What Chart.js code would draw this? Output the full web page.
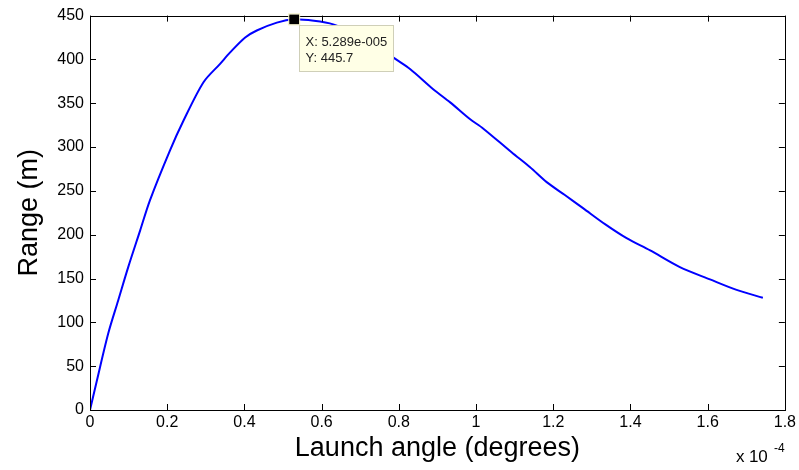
<!DOCTYPE html>
<html>
<head>
<meta charset="utf-8">
<script src="https://cdn.jsdelivr.net/npm/chart.js@4"></script>
<style>
  html, body { margin: 0; padding: 0; background: #fff; }
  #wrap { width: 799px; height: 470px; }
</style>
</head>
<body>
<div id="wrap"><canvas id="myChart" width="799" height="470"></canvas></div>
<script>
// launch angle in units of 1e-4 degrees
const angles = [0, 0.017, 0.047, 0.073, 0.099, 0.130, 0.155, 0.207, 0.242, 0.294, 0.337, 0.363,
    0.402, 0.432, 0.484, 0.5289, 0.58, 0.63, 0.70, 0.75, 0.786, 0.829, 0.889, 0.933, 0.984,
    1.019, 1.092, 1.140, 1.183, 1.231, 1.278, 1.334, 1.390, 1.451, 1.528, 1.606, 1.675, 1.743]
const ranges = [0, 32, 87, 125, 163, 205, 239, 296, 330, 374, 395, 408,
    425, 433, 442, 445.7, 444, 440, 428, 414, 402, 389, 366, 351, 332,
    321, 294, 277, 260, 245, 230, 212, 196, 182, 163, 149, 137, 128]
const xTicks = [0, 0.2, 0.4, 0.6, 0.8, 1, 1.2, 1.4, 1.6, 1.8]
const yTicks = [0, 50, 100, 150, 200, 250, 300, 350, 400, 450]
const tipIndex = 15
const tipLines = ['X: 5.289e-005', 'Y: 445.7']

const FONT = 'Arial, "Liberation Sans", Helvetica, sans-serif'

// box, inward ticks, exponent label and the data tip
const matlabAxes = {
    id: 'matlabAxes',
    afterDraw(chart) {
        const ctx = chart.ctx
        const a = chart.chartArea
        const xs = chart.scales.x
        const ys = chart.scales.y
        const tl = 6
        ctx.save()
        ctx.strokeStyle = '#000'
        ctx.lineWidth = 1
        ctx.beginPath()
        xTicks.forEach(v => {
            const px = Math.round(xs.getPixelForValue(v)) + 0.5
            ctx.moveTo(px, a.bottom); ctx.lineTo(px, a.bottom - tl)
            ctx.moveTo(px, a.top); ctx.lineTo(px, a.top + tl)
        })
        yTicks.forEach(v => {
            const py = Math.round(ys.getPixelForValue(v)) + 0.5
            ctx.moveTo(a.left, py); ctx.lineTo(a.left + tl, py)
            ctx.moveTo(a.right, py); ctx.lineTo(a.right - tl, py)
        })
        ctx.stroke()
        ctx.strokeRect(Math.round(a.left) + 0.5, Math.round(a.top) + 0.5,
            Math.round(a.right - a.left), Math.round(a.bottom - a.top))

        // x 10^-4
        ctx.fillStyle = '#000'
        ctx.textBaseline = 'alphabetic'
        ctx.textAlign = 'left'
        ctx.font = '17px ' + FONT
        ctx.fillText('x', a.right - 49, 462)
        ctx.fillText('10', a.right - 36, 462)
        ctx.font = '12px ' + FONT
        ctx.fillText('-4', a.right - 11, 452)

        // data tip
        const mx = xs.getPixelForValue(angles[tipIndex])
        const my = ys.getPixelForValue(ranges[tipIndex])
        ctx.fillStyle = '#000'
        ctx.fillRect(mx - 5, my - 5, 10, 10)
        ctx.strokeStyle = '#f2efc0'
        ctx.strokeRect(mx - 5.5, my - 5.5, 11, 11)
        const bx = Math.round(mx) + 5.5, by = Math.round(my) + 6.5
        ctx.fillStyle = '#ffffe6'
        ctx.fillRect(bx, by, 94, 46)
        ctx.strokeStyle = '#cfcfb8'
        ctx.strokeRect(bx, by, 94, 46)
        ctx.fillStyle = '#222'
        ctx.font = '13px ' + FONT
        ctx.fillText(tipLines[0], bx + 6, by + 20)
        ctx.fillText(tipLines[1], bx + 6, by + 36)
        ctx.restore()
    }
}

function render_chart() {
    const points = angles.map((x, i) => ({ x: x, y: ranges[i] }))
    const config = {
        type: 'line',
        data: {
            datasets: [{
                data: points,
                borderColor: '#0000ff',
                borderWidth: 2,
                pointRadius: 0,
                tension: 0.3,
                fill: false,
            }],
        },
        options: {
            responsive: false,
            animation: false,
            layout: { padding: { top: 15, right: 14, left: 0, bottom: 0 } },
            plugins: { legend: { display: false }, tooltip: { enabled: false } },
            scales: {
                x: {
                    type: 'linear',
                    min: 0,
                    max: 1.8,
                    afterBuildTicks: s => { s.ticks = xTicks.map(v => ({ value: v })) },
                    afterFit: s => { s.height = 60 },
                    grid: { display: false, drawTicks: false },
                    border: { display: false },
                    ticks: {
                        color: '#000',
                        padding: 3,
                        maxRotation: 0,
                        autoSkip: false,
                        font: { family: FONT, size: 16 },
                        callback: v => String(Math.round(v * 10) / 10),
                    },
                    title: {
                        display: true,
                        text: 'Launch angle (degrees)',
                        color: '#000',
                        font: { family: FONT, size: 27 },
                        padding: { top: 4, bottom: 5 },
                    },
                },
                y: {
                    min: 0,
                    max: 450,
                    afterBuildTicks: s => { s.ticks = yTicks.map(v => ({ value: v })) },
                    afterFit: s => { s.width = 90 },
                    grid: { display: false, drawTicks: false },
                    border: { display: false },
                    ticks: {
                        color: '#000',
                        padding: 6,
                        autoSkip: false,
                        font: { family: FONT, size: 16 },
                    },
                    title: {
                        display: true,
                        text: 'Range (m)',
                        color: '#000',
                        font: { family: FONT, size: 27 },
                        padding: { top: 13, bottom: 4 },
                    },
                },
            },
        },
        plugins: [matlabAxes],
    }
    const myChart = new Chart(document.getElementById('myChart'), config)
}
document.addEventListener('DOMContentLoaded', render_chart)
</script>
</body>
</html>
